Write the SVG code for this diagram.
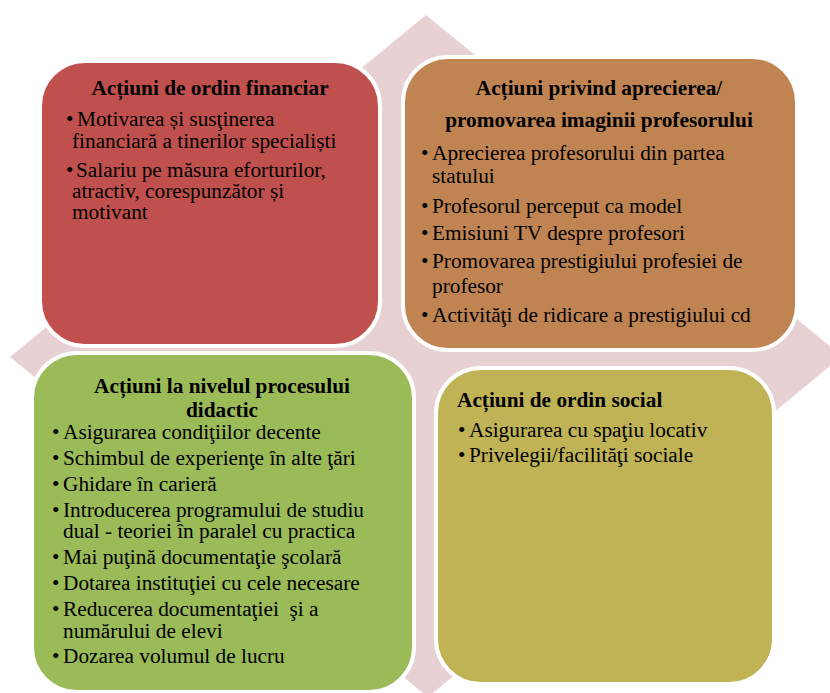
<svg xmlns="http://www.w3.org/2000/svg" width="830" height="693" viewBox="0 0 830 693">
<style>
text{font-family:"Liberation Serif","Times New Roman",serif;font-size:21.3px;fill:#000}
.t{font-weight:bold}
.c{text-anchor:middle}
.box{stroke:#fff;stroke-width:4}
</style>
<rect width="830" height="693" fill="#fff"/>
<g id="background">
<polygon points="426,15 842,356 428,697 10,357" fill="#e8d1d3"/>
</g>
<g id="connectors"/>
<g id="financiar">
<rect class="box" x="40" y="61" width="340" height="285" rx="45" fill="#c0504d"/>
<text class="t c" x="210" y="95">Acțiuni de ordin financiar</text>
<text x="66" y="126">•</text>
<text x="77" y="126">Motivarea și susţinerea</text>
<text x="72" y="148">financiară a tinerilor specialiști</text>
<text x="66" y="177">•</text>
<text x="76" y="177">Salariu pe măsura eforturilor,</text>
<text x="72" y="198">atractiv, corespunzător și</text>
<text x="72" y="219">motivant</text>
</g>
<g id="apreciere">
<rect class="box" x="403" y="57" width="394" height="293" rx="45" fill="#c08452"/>
<text class="t c" x="599" y="95">Acțiuni privind aprecierea/</text>
<text class="t c" x="599" y="127">promovarea imaginii profesorului</text>
<text x="421" y="160">•</text>
<text x="432" y="160">Aprecierea profesorului din partea</text>
<text x="432" y="183">statului</text>
<text x="421" y="213">•</text>
<text x="432" y="213">Profesorul perceput ca model</text>
<text x="421" y="240">•</text>
<text x="432" y="240">Emisiuni TV despre profesori</text>
<text x="421" y="268">•</text>
<text x="432" y="268">Promovarea prestigiului profesiei de</text>
<text x="432" y="293">profesor</text>
<text x="421" y="322">•</text>
<text x="432" y="322">Activităţi de ridicare a prestigiului cd</text>
</g>
<g id="didactic">
<rect class="box" x="32" y="353" width="382" height="339" rx="45" fill="#9bbb59"/>
<text class="t c" x="222" y="393">Acțiuni la nivelul procesului</text>
<text class="t c" x="222" y="417">didactic</text>
<text x="52" y="439">•</text>
<text x="63" y="439">Asigurarea condiţiilor decente</text>
<text x="52" y="465">•</text>
<text x="63" y="465">Schimbul de experienţe în alte ţări</text>
<text x="52" y="491">•</text>
<text x="63" y="491">Ghidare în carieră</text>
<text x="52" y="517">•</text>
<text x="63" y="517">Introducerea programului de studiu</text>
<text x="63" y="538">dual - teoriei în paralel cu practica</text>
<text x="52" y="564">•</text>
<text x="63" y="564">Mai puţină documentaţie şcolară</text>
<text x="52" y="590">•</text>
<text x="63" y="590">Dotarea instituţiei cu cele necesare</text>
<text x="52" y="616">•</text>
<text x="63" y="616" style="white-space:pre">Reducerea documentaţiei  şi a</text>
<text x="63" y="638">numărului de elevi</text>
<text x="52" y="663">•</text>
<text x="63" y="663">Dozarea volumul de lucru</text>
</g>
<g id="social">
<rect class="box" x="436" y="368" width="338" height="316" rx="45" fill="#bfb356"/>
<text class="t" x="457" y="407">Acțiuni de ordin social</text>
<text x="458" y="437">•</text>
<text x="469" y="437">Asigurarea cu spaţiu locativ</text>
<text x="458" y="462">•</text>
<text x="469" y="462">Privelegii/facilităţi sociale</text>
</g>
</svg>
